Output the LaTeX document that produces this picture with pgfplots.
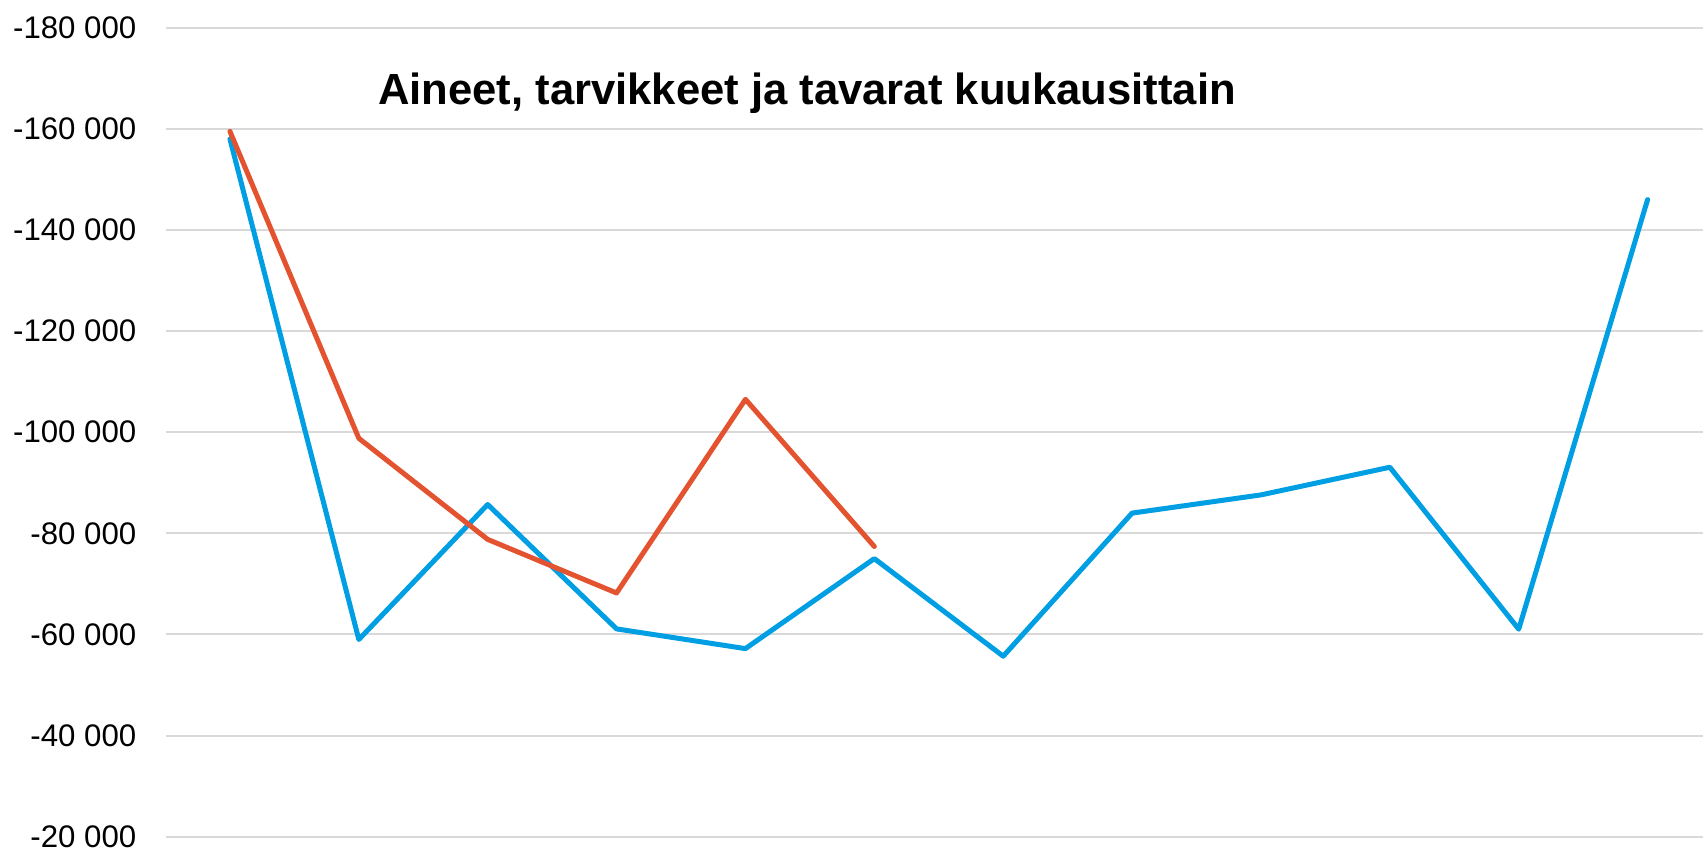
\documentclass[border=0pt]{standalone}
\usepackage{pgfplots}
\pgfplotsset{compat=1.18}
\usepackage{fontspec}
\setmainfont{Liberation Sans}
\definecolor{blueline}{RGB}{0,158,226}
\definecolor{redline}{RGB}{228,83,48}
\definecolor{gridgray}{RGB}{217,217,217}
\begin{document}
\begin{tikzpicture}
\path[use as bounding box] (0,0) rectangle (851.5bp,425bp);
\begin{axis}[
  at={(82.75bp,6.65bp)}, anchor=south west,
  width=768.75bp, height=404.5bp, scale only axis,
  xmin=0.5, xmax=12.43,
  ymin=-180000, ymax=-20000,
  y dir=reverse,
  scaled y ticks=false,
  axis line style={draw=none},
  xtick=\empty,
  ytick={-180000,-160000,-140000,-120000,-100000,-80000,-60000,-40000,-20000},
  yticklabels={-180 000,-160 000,-140 000,-120 000,-100 000,-80 000,-60 000,-40 000,-20 000},
  major tick length=0pt,
  ymajorgrids,
  grid style={gridgray, line width=1bp},
  yticklabel style={font=\fontsize{15.6bp}{18bp}\selectfont, inner sep=0pt, xshift=-14.4bp},
  clip=false,
]
\addplot[blueline, line width=2.5bp, line join=round, line cap=round] coordinates {
(1,-158000) (2,-59000) (3,-85700) (4,-61100) (5,-57200) (6,-75000)
(7,-55700) (8,-84000) (9,-87600) (10,-93070) (11,-61050) (12,-146000)
};
\addplot[redline, line width=2.5bp, line join=round, line cap=round] coordinates {
(1,-159500) (2,-98800) (3,-78800) (4,-68200) (5,-106500) (6,-77400)
};
\end{axis}
\node[anchor=base, font=\fontsize{21.8bp}{26bp}\selectfont\bfseries] at (403.5bp,372.5bp) {Aineet, tarvikkeet ja tavarat kuukausittain};
\end{tikzpicture}
\end{document}
